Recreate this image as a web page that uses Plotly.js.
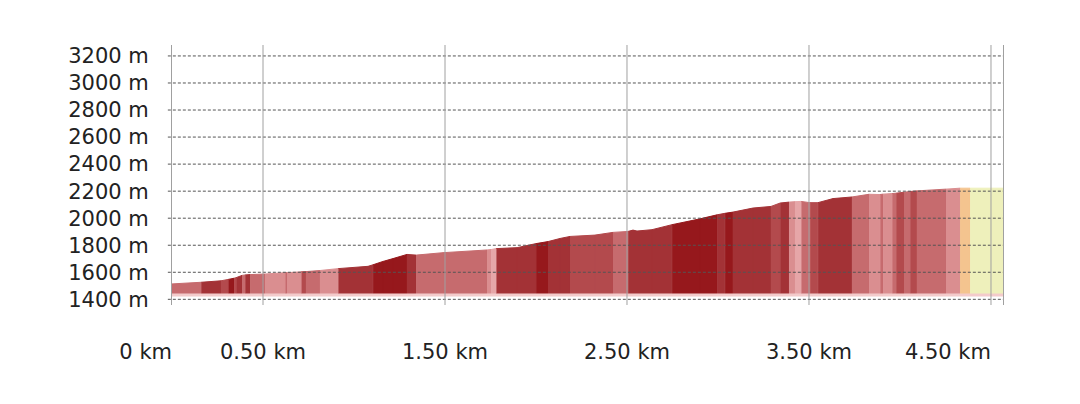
<!DOCTYPE html>
<html>
<head>
<meta charset="utf-8">
<script src="https://cdn.plot.ly/plotly-3.0.1.min.js"></script>
<style>
  html, body { margin: 0; padding: 0; background: #ffffff; }
  #chart { width: 1080px; height: 404px; }
</style>
</head>
<body>
<div id="chart"></div>
<script>
// profile points: distance (km) and elevation (m)
var distanceKm = [
    0, 0.159, 0.269, 0.308, 0.341, 0.352, 0.385, 0.401, 0.429, 0.511,
    0.621, 0.632, 0.709, 0.736, 0.813, 0.912, 1.077, 1.104, 1.159, 1.214,
    1.291, 1.341, 1.489, 1.731, 1.753, 1.780, 1.896, 2.000, 2.066, 2.132,
    2.187, 2.324, 2.423, 2.505, 2.533, 2.555, 2.637, 2.747, 2.901, 2.995,
    3.038, 3.082, 3.192, 3.291, 3.341, 3.390, 3.423, 3.456, 3.505, 3.549,
    3.632, 3.736, 3.830, 3.890, 3.907, 3.956, 3.978, 4.022, 4.055, 4.093,
    4.253, 4.330, 4.385, 4.566
];
var elevationM = [
    1514, 1526, 1537, 1547, 1556, 1560, 1577, 1580, 1583, 1587,
    1597, 1597, 1603, 1605, 1613, 1627, 1644, 1655, 1680, 1701,
    1732, 1727, 1745, 1765, 1768, 1775, 1782, 1812, 1827, 1850,
    1865, 1875, 1895, 1902, 1912, 1905, 1915, 1952, 1995, 2025,
    2036, 2045, 2075, 2087, 2112, 2119, 2122, 2124, 2115, 2115,
    2145, 2157, 2177, 2175, 2178, 2182, 2185, 2192, 2197, 2202,
    2215, 2222, 2222, 2222
];
// slope class of each stretch between two profile points (0 = steepest)
var slopeClass = [
    3, 1, 2, 0, 2, 1, 3, 1, 3, 4,
    3, 4, 2, 3, 4, 1, 1, 0, 0, 0,
    1, 3, 3, 4, 5, 1, 1, 0, 1, 1,
    2, 2, 3, 1, 1, 1, 1, 0, 0, 1,
    0, 1, 1, 2, 1, 4, 5, 3, 2, 1,
    1, 3, 4, 3, 4, 3, 2, 3, 2, 3,
    4, 6, 7
];
var classColors = ["#96181c", "#a33236", "#b34a4d", "#c66b6e", "#da8e90", "#e6a6a8", "#f4c48f", "#eef0bb"];

var baseElevation = 1443;
var stripBottom = 1421;

var yTickVals = [1400, 1600, 1800, 2000, 2200, 2400, 2600, 2800, 3000, 3200];
var yTickText = ["1400 m", "1600 m", "1800 m", "2000 m", "2200 m", "2400 m", "2600 m", "2800 m", "3000 m", "3200 m"];
var xTickVals = [0, 0.5, 1.5, 2.5, 3.5, 4.5];
var xTickText = ["0 km", "0.50 km", "1.50 km", "2.50 km", "3.50 km", "4.50 km"];

var plotData = [];
var lastKm = distanceKm[distanceKm.length - 1];

// pale strip under the coloured profile
plotData.push({
    x: [distanceKm[0], lastKm, lastKm, distanceKm[0]],
    y: [stripBottom, stripBottom, baseElevation, baseElevation],
    xaxis: "x2",
    mode: "lines",
    fill: "toself",
    fillcolor: "#f3cbcb",
    line: { width: 0, color: "#f3cbcb" },
    hoverinfo: "skip",
    showlegend: false
});

for (var c = 0; c < classColors.length; c++)
{
    var xs = [];
    var ys = [];

    for (var i = 0; i < slopeClass.length; i++)
    {
        if (slopeClass[i] != c)
        {
            continue;
        }
        xs.push(distanceKm[i], distanceKm[i + 1], distanceKm[i + 1], distanceKm[i], null);
        ys.push(elevationM[i], elevationM[i + 1], baseElevation, baseElevation, null);
    }

    plotData.push({
        x: xs,
        y: ys,
        mode: "lines",
        fill: "toself",
        fillcolor: classColors[c],
        line: { width: 1, color: classColors[c] },
        hoverinfo: "skip",
        showlegend: false
    });
}

var shapes = [];

for (var v of yTickVals)
{
    shapes.push({
        type: "line", xref: "paper", yref: "y",
        x0: -0.005, x1: 1, y0: v, y1: v,
        line: { color: "#555555", width: 1, dash: "3px,2px" },
        layer: "above"
    });
}

for (var t of xTickVals.slice(1))
{
    shapes.push({
        type: "line", xref: "x", yref: "paper",
        x0: t, x1: t, y0: 0, y1: 1,
        line: { color: "#a0a0a0", width: 1 },
        layer: "above"
    });
}

var tickFont = { family: "DejaVu Sans", size: 21, color: "#222222" };
var middleText = xTickText.map((label, index) => (index == 0 || index == xTickText.length - 1) ? "" : label);

var layout = {
    width: 1080,
    height: 404,
    margin: { l: 172, r: 77, t: 45, b: 99 },
    paper_bgcolor: "#ffffff",
    plot_bgcolor: "#ffffff",
    showlegend: false,
    font: tickFont,
    xaxis: {
        range: [0, lastKm],
        tickvals: xTickVals,
        ticktext: middleText,
        ticks: "",
        ticklabelstandoff: 32,
        showgrid: false,
        zeroline: false,
        showline: false,
        tickfont: tickFont
    },
    xaxis2: {
        overlaying: "x",
        matches: "x",
        anchor: "y",
        side: "bottom",
        tickvals: [xTickVals[0], xTickVals[xTickVals.length - 1]],
        ticktext: [xTickText[0], xTickText[xTickText.length - 1]],
        ticklabelposition: "outside left",
        ticks: "",
        ticklabelstandoff: 32,
        showgrid: false,
        zeroline: false,
        showline: false,
        tickfont: tickFont
    },
    yaxis: {
        range: [1358, 3281],
        tickvals: yTickVals,
        ticktext: yTickText,
        ticks: "",
        ticklabelstandoff: 18,
        showgrid: false,
        zeroline: false,
        showline: true,
        mirror: true,
        linecolor: "#a0a0a0",
        linewidth: 1,
        layer: "above traces",
        tickfont: tickFont
    },
    shapes: shapes
};

Plotly.newPlot("chart", plotData, layout, { staticPlot: true, displayModeBar: false });
</script>
</body>
</html>
